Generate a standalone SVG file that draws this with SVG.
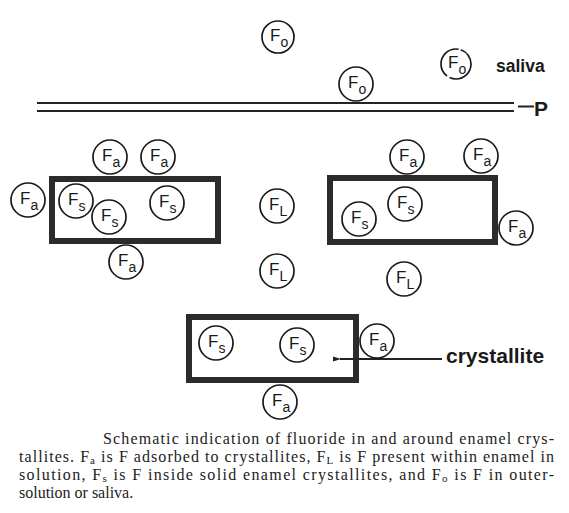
<svg xmlns="http://www.w3.org/2000/svg" width="569" height="513" viewBox="0 0 569 513">
<defs>
<style>
.c{fill:none;stroke:#1a1a1a;stroke-width:1.7}
.f{font-family:"Liberation Sans",Arial,sans-serif;font-size:17px;fill:#1a1a1a}
.sb{font-size:14px}
.box{fill:none;stroke:#2b2b2b;stroke-width:6}
.lbl{font-family:"Liberation Sans",Arial,sans-serif;font-weight:bold;fill:#1a1a1a}
.cap{font-family:"Liberation Serif","Times New Roman",serif;font-size:16px;fill:#222}
.cs{font-size:11px}
.ln{stroke:#222;stroke-width:2;fill:none}
</style>
<marker id="ah" markerWidth="8" markerHeight="6" refX="1" refY="3" orient="auto" markerUnits="userSpaceOnUse">
<path d="M0,3 L8,0.5 L8,5.5 Z" fill="#222"/>
</marker>
</defs>
<rect width="569" height="513" fill="#fff"/>

<g id="crystallites">
<rect id="crystal-left" class="box" x="52" y="179" width="166" height="62"/>
<rect id="crystal-right" class="box" x="330" y="178" width="165" height="64"/>
<rect id="crystal-bottom" class="box" x="189" y="317" width="167" height="63"/>
</g>

<g id="connectors">
<line id="pellicle-top" class="ln" x1="37" y1="103" x2="514" y2="103"/>
<line id="pellicle-bottom" class="ln" x1="37" y1="111" x2="514" y2="111"/>
<line id="p-leader" class="ln" x1="518" y1="106.5" x2="534" y2="106.5" stroke-width="1.6"/>
<line id="crystallite-leader" class="ln" x1="442" y1="359" x2="340" y2="359" stroke-width="1.6" marker-end="url(#ah)"/>
</g>

<g id="labels">
<text id="saliva" class="lbl" x="496" y="72" font-size="17.5">saliva</text>
<text id="P" class="lbl" x="534" y="116" font-size="21" font-weight="normal">P</text>
<text id="crystallite" class="lbl" x="446" y="363" font-size="21">crystallite</text>
</g>

<g id="o1"><circle class="c" cx="278" cy="37" r="16"/><text class="f" x="270" y="41">F<tspan class="sb" y="47">o</tspan></text></g>
<g id="o2"><circle class="c" cx="356" cy="84" r="17"/><text class="f" x="348" y="88">F<tspan class="sb" y="94">o</tspan></text></g>
<g id="o3"><circle class="c" cx="456" cy="64" r="15" stroke-dasharray="30 3 40 2"/><text class="f" x="448" y="68">F<tspan class="sb" y="74">o</tspan></text></g>

<g id="a1"><circle class="c" cx="110" cy="157" r="17"/><text class="f" x="102" y="161">F<tspan class="sb" y="167">a</tspan></text></g>
<g id="a2"><circle class="c" cx="158" cy="157" r="17"/><text class="f" x="150" y="161">F<tspan class="sb" y="167">a</tspan></text></g>
<g id="a3"><circle class="c" cx="28" cy="200" r="17"/><text class="f" x="20" y="204">F<tspan class="sb" y="210">a</tspan></text></g>
<g id="s1"><circle class="c" cx="76" cy="201" r="17"/><text class="f" x="68" y="205">F<tspan class="sb" y="211">s</tspan></text></g>
<g id="s2"><circle class="c" cx="109" cy="217" r="17"/><text class="f" x="101" y="221">F<tspan class="sb" y="227">s</tspan></text></g>
<g id="s3"><circle class="c" cx="167" cy="203" r="17"/><text class="f" x="159" y="207">F<tspan class="sb" y="213">s</tspan></text></g>
<g id="a4"><circle class="c" cx="126" cy="262" r="17"/><text class="f" x="118" y="266">F<tspan class="sb" y="272">a</tspan></text></g>

<g id="L1"><circle class="c" cx="277" cy="206" r="17"/><text class="f" x="269" y="210">F<tspan class="sb" y="216">L</tspan></text></g>
<g id="L2"><circle class="c" cx="277" cy="271" r="17"/><text class="f" x="269" y="275">F<tspan class="sb" y="281">L</tspan></text></g>

<g id="a5"><circle class="c" cx="407" cy="157" r="17"/><text class="f" x="399" y="161">F<tspan class="sb" y="167">a</tspan></text></g>
<g id="a6"><circle class="c" cx="481" cy="156" r="17"/><text class="f" x="473" y="160">F<tspan class="sb" y="166">a</tspan></text></g>
<g id="s4"><circle class="c" cx="405" cy="204" r="17"/><text class="f" x="397" y="208">F<tspan class="sb" y="214">s</tspan></text></g>
<g id="s5"><circle class="c" cx="359" cy="219" r="17"/><text class="f" x="351" y="223">F<tspan class="sb" y="229">s</tspan></text></g>
<g id="a7"><circle class="c" cx="516" cy="228" r="17"/><text class="f" x="508" y="232">F<tspan class="sb" y="238">a</tspan></text></g>
<g id="L3"><circle class="c" cx="404" cy="279" r="17"/><text class="f" x="396" y="283">F<tspan class="sb" y="289">L</tspan></text></g>

<g id="s6"><circle class="c" cx="216" cy="343" r="17"/><text class="f" x="208" y="347">F<tspan class="sb" y="353">s</tspan></text></g>
<g id="s7"><circle class="c" cx="297" cy="345" r="17"/><text class="f" x="289" y="349">F<tspan class="sb" y="355">s</tspan></text></g>
<g id="a8"><circle class="c" cx="377" cy="341" r="17"/><text class="f" x="369" y="345">F<tspan class="sb" y="351">a</tspan></text></g>
<g id="a9"><circle class="c" cx="280" cy="402" r="17"/><text class="f" x="272" y="406">F<tspan class="sb" y="412">a</tspan></text></g>

<g id="caption">
<text class="cap" x="103" y="444" textLength="451" lengthAdjust="spacing">Schematic indication of fluoride in and around enamel crys-</text>
<text class="cap" x="19" y="462" textLength="535" lengthAdjust="spacing">tallites. F<tspan class="cs" dy="2">a</tspan><tspan dy="-2"> is F adsorbed to crystallites, F</tspan><tspan class="cs" dy="2">L</tspan><tspan dy="-2"> is F present within enamel in</tspan></text>
<text class="cap" x="19" y="480" textLength="535" lengthAdjust="spacing">solution, F<tspan class="cs" dy="2">s</tspan><tspan dy="-2"> is F inside solid enamel crystallites, and F</tspan><tspan class="cs" dy="2">o</tspan><tspan dy="-2"> is F in outer-</tspan></text>
<text class="cap" x="19" y="498">solution or saliva.</text>
</g>
</svg>
